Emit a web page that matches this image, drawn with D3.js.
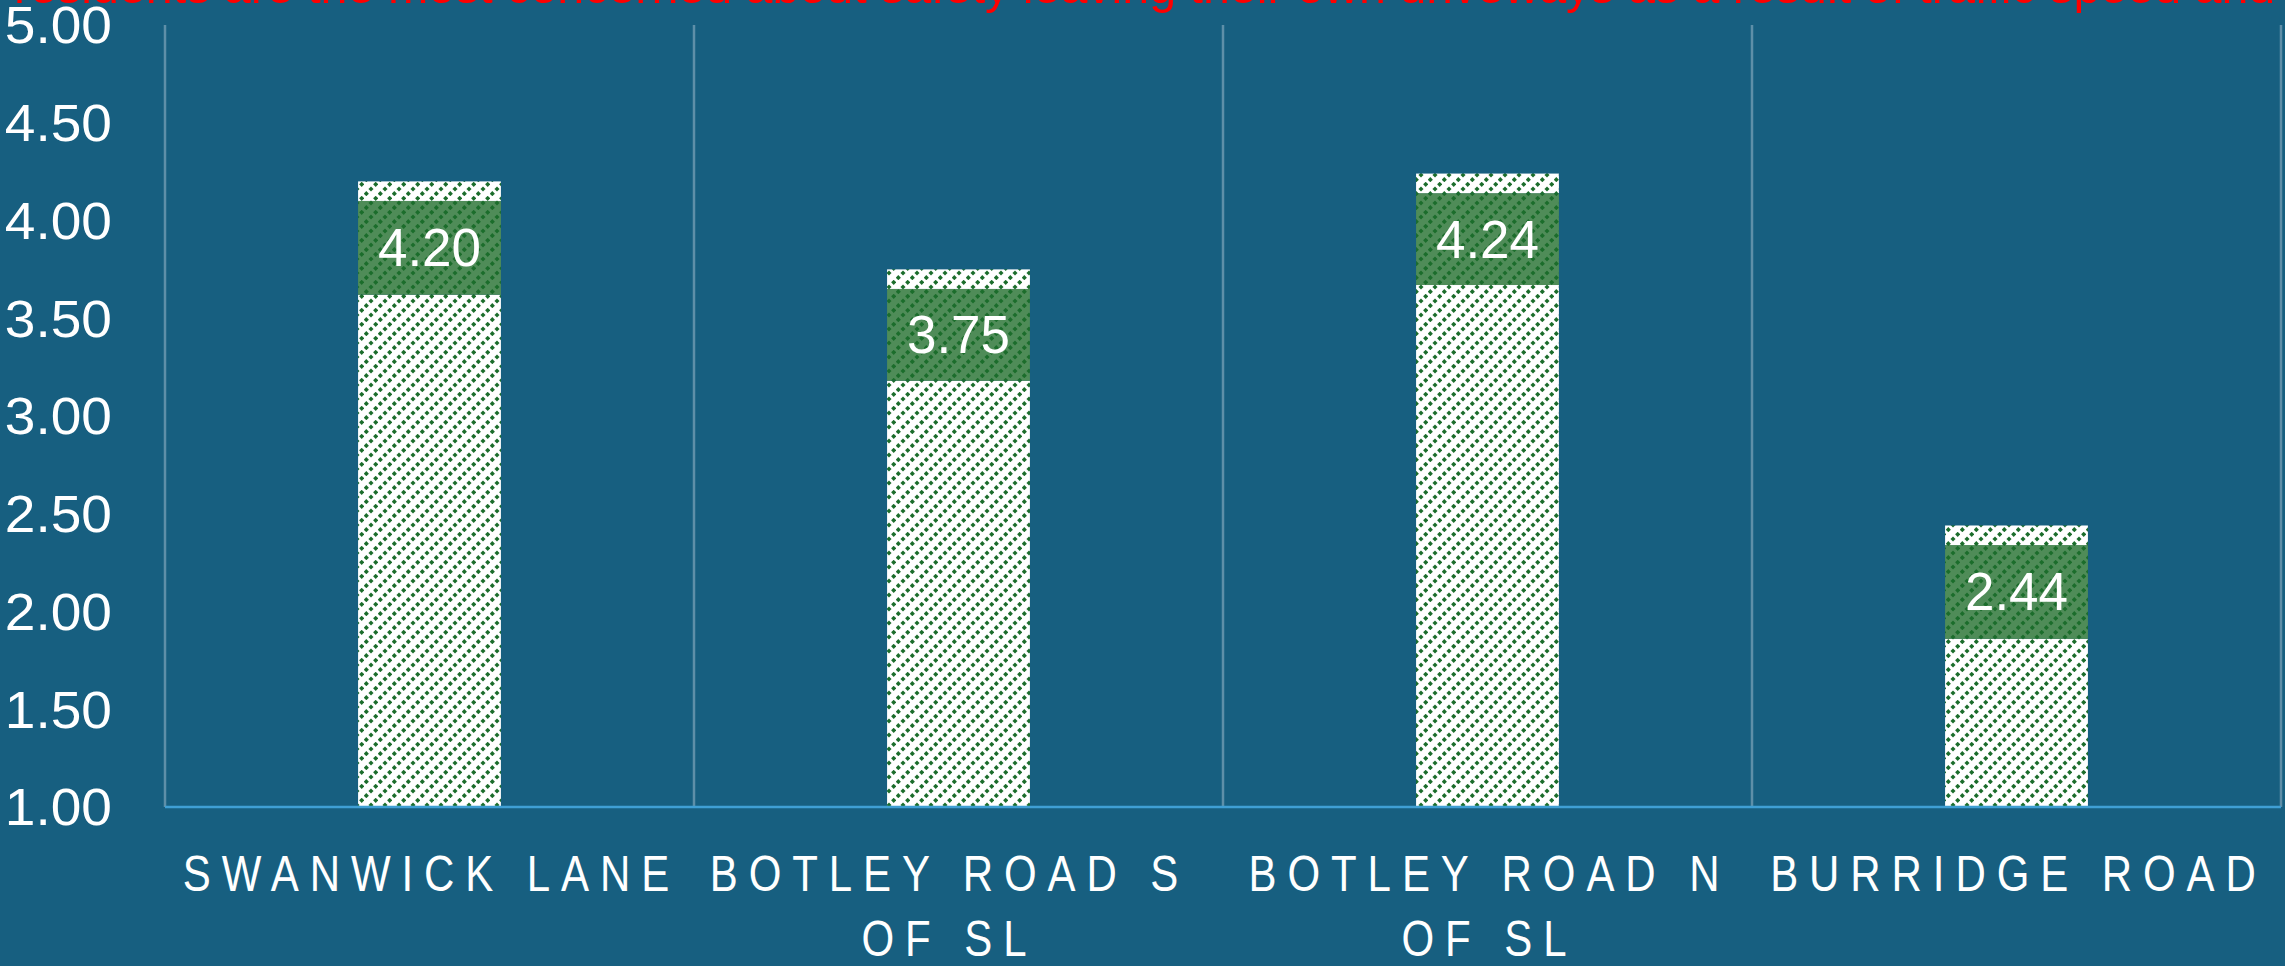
<!DOCTYPE html>
<html>
<head>
<meta charset="utf-8">
<script src="https://cdn.jsdelivr.net/npm/d3@7"></script>
<style>
  html, body { margin: 0; padding: 0; background: #175f80; overflow: hidden; }
  svg { display: block; }
</style>
</head>
<body>
<script>
// ---- data ----
const categories = ["SWANWICK LANE", "BOTLEY ROAD S OF SL", "BOTLEY ROAD N OF SL", "BURRIDGE ROAD"];
const categoryLines = [["SWANWICK LANE"], ["BOTLEY ROAD S", "OF SL"], ["BOTLEY ROAD N", "OF SL"], ["BURRIDGE ROAD"]];
const meanScores = [4.20, 3.75, 4.24, 2.44];
const lowerBand = [3.62, 3.18, 3.67, 1.86];
const upperBand = [4.10, 3.65, 4.14, 2.34];
const yTicks = [1.00, 1.50, 2.00, 2.50, 3.00, 3.50, 4.00, 4.50, 5.00];
const titleHidden = "Swanwick Lane and Botley ";
const titleVisible = "residents are the most concerned about safety leaving their own driveways as a result of traffic speed and";
const titleTail = " volume";

const W = 2285, H = 966;
const plot = { left: 165, right: 2281, top: 25, bottom: 807 };

const svg = d3.select("body").append("svg").attr("width", W).attr("height", H);
svg.append("rect").attr("width", W).attr("height", H).attr("fill", "#175f80");

const defs = svg.append("defs");
function makePattern(id, bg, fg) {
  const T = 14;
  const p = defs.append("pattern").attr("id", id)
    .attr("patternUnits", "userSpaceOnUse").attr("width", T).attr("height", T);
  p.append("rect").attr("width", T).attr("height", T).attr("fill", bg);
  [[T / 6, T * 5 / 6], [T / 2, T / 2], [T * 5 / 6, T / 6]].forEach(([cx, cy]) => {
    p.append("rect").attr("x", cx - 1.8).attr("y", cy - 1.8).attr("width", 3.6).attr("height", 3.6)
      .attr("fill", fg).attr("transform", `rotate(45 ${cx} ${cy})`);
  });
}
makePattern("hatchWhite", "#ffffff", "#1b6d2b");
makePattern("hatchGreen", "#4f8c58", "#1b6d2b");

const x = d3.scaleBand().domain(categories).range([plot.left, plot.right])
  .paddingInner(0.73).paddingOuter(0.365);
const y = d3.scaleLinear().domain([1, 5]).range([plot.bottom, plot.top]);

// vertical category separators
const step = x.step();
const sepX = categories.map((c, i) => plot.left + i * step).concat([plot.right]);
svg.append("g").selectAll("line").data(sepX).join("line")
  .attr("x1", d => d).attr("x2", d => d)
  .attr("y1", y(5)).attr("y2", y(1))
  .attr("stroke", "#5e8fa8").attr("stroke-width", 2.5);

// bars
const rows = categories.map((c, i) => ({ c, lo: lowerBand[i], hi: upperBand[i], mean: meanScores[i] }));
const g = svg.append("g");
rows.forEach(r => {
  const segs = [
    { a: 1, b: r.lo, fill: "url(#hatchWhite)" },
    { a: r.lo, b: r.hi, fill: "url(#hatchGreen)" },
    { a: r.hi, b: r.mean, fill: "url(#hatchWhite)" }
  ];
  segs.forEach(s => {
    g.append("rect")
      .attr("x", x(r.c)).attr("width", x.bandwidth())
      .attr("y", y(s.b)).attr("height", y(s.a) - y(s.b))
      .attr("fill", s.fill);
  });
  g.append("text")
    .attr("x", x(r.c) + x.bandwidth() / 2)
    .attr("y", (y(r.lo) + y(r.hi)) / 2)
    .attr("text-anchor", "middle").attr("dominant-baseline", "central")
    .attr("font-family", "Liberation Sans, Arial, sans-serif").attr("font-size", 53)
    .attr("fill", "#ffffff")
    .text(r.mean.toFixed(2));
});

// bottom axis line
svg.append("line").attr("x1", plot.left).attr("x2", plot.right)
  .attr("y1", y(1)).attr("y2", y(1))
  .attr("stroke", "#3f9fd4").attr("stroke-width", 2.5);

// y axis labels
const yAxis = d3.axisLeft(y).tickValues(yTicks).tickFormat(d3.format(".2f")).tickSize(0).tickPadding(0);
const ya = svg.append("g").attr("transform", "translate(112,0)").call(yAxis);
ya.select(".domain").remove();
ya.selectAll("text").attr("font-family", "Liberation Sans, Arial, sans-serif")
  .attr("font-size", 51).attr("fill", "#ffffff").attr("dy", "0.35em")
  .attr("transform", "scale(1.08,1)");

// x labels (condensed look via horizontal scaling)
const sx = 0.84, ls = 13;
const xl = svg.append("g");
categories.forEach((c, i) => {
  const cx = x(c) + x.bandwidth() / 2 - 3.5 - (i === 1 ? 11 : 0) + ls * sx / 2;
  categoryLines[i].forEach((line, j) => {
    xl.append("g").attr("transform", `translate(${cx},${891 + j * 65}) scale(${sx},1)`)
      .append("text")
      .attr("x", 0).attr("y", 0)
      .attr("text-anchor", "middle")
      .attr("font-family", "Liberation Sans, Arial, sans-serif")
      .attr("font-size", 50).attr("fill", "#ffffff")
      .attr("letter-spacing", ls)
      .text(line);
  });
});

// title (cut at top)
const title = svg.append("text").attr("y", 3).attr("fill", "#ff0000")
  .attr("font-family", "Liberation Sans, Arial, sans-serif").attr("font-size", 46);
const tHidden = title.append("tspan").text(titleHidden);
const tVis = title.append("tspan").text(titleVisible);
title.append("tspan").text(titleTail);
const wVis = tVis.node().getComputedTextLength();
const fs = 46 * (2262 / wVis);
title.attr("font-size", fs);
const wHidden2 = tHidden.node().getComputedTextLength();
title.attr("x", 14 - wHidden2);
</script>
</body>
</html>
